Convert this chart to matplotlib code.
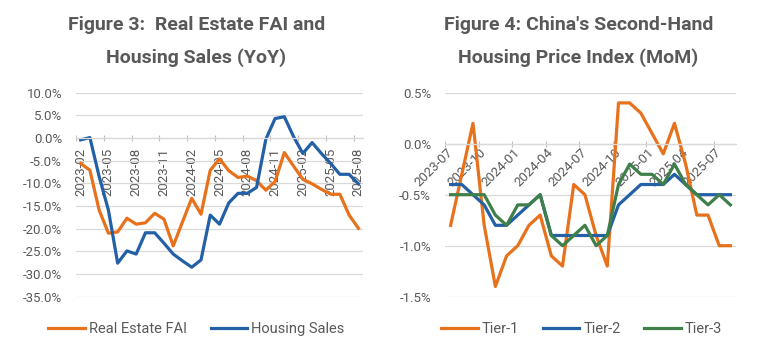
import matplotlib
matplotlib.use("Agg")
import matplotlib.pyplot as plt
from matplotlib.ticker import FixedLocator, FuncFormatter

plt.rcParams["font.family"] = ["Roboto", "DejaVu Sans"]

ORANGE = "#E8711C"
BLUE = "#2360A5"
GREEN = "#3E7F4A"
GRID = "#D9D9D9"
TXT = "#595959"

# ---- Figure 3: real estate FAI and housing sales, YoY %
fai_months = ["2023-02", "2023-03", "2023-04", "2023-05", "2023-06", "2023-07",
              "2023-08", "2023-09", "2023-10", "2023-11", "2023-12", "2024-01",
              "2024-02", "2024-03", "2024-04", "2024-05", "2024-06", "2024-07",
              "2024-08", "2024-09", "2024-10", "2024-11", "2024-12", "2025-01",
              "2025-02", "2025-03", "2025-04", "2025-05", "2025-06", "2025-07",
              "2025-08"]
real_estate_fai = [-5.6, -7.1, -15.9, -21.0, -20.7, -17.7, -19.0, -18.7, -16.6,
                   -17.9, -23.8, -18.5, -13.3, -16.8, -7.1, -4.6, -7.2, -8.7,
                   -8.4, -9.4, -11.5, -9.6, -3.2, -6.2, -9.1, -10.1, -11.3,
                   -12.4, -12.4, -17.0, -19.9]
housing_sales = [-0.4, 0.1, -8.5, -15.9, -27.6, -24.9, -25.6, -20.9, -20.9,
                 -23.2, -25.6, -27.1, -28.5, -26.9, -17.0, -19.0, -14.3, -12.2,
                 -12.2, -10.9, -0.3, 4.3, 4.7, 0.3, -3.4, -1.0, -3.4, -5.6,
                 -8.0, -8.0, -10.1]

# ---- Figure 4: second-hand housing price index, MoM %
price_months = ["2023-07", "2023-08", "2023-09", "2023-10", "2023-11", "2023-12",
                "2024-01", "2024-02", "2024-03", "2024-04", "2024-05", "2024-06",
                "2024-07", "2024-08", "2024-09", "2024-10", "2024-11", "2024-12",
                "2025-01", "2025-02", "2025-03", "2025-04", "2025-05", "2025-06",
                "2025-07", "2025-08"]
tier1 = [-0.8, -0.3, 0.2, -0.8, -1.4, -1.1, -1.0, -0.8, -0.7, -1.1, -1.2, -0.4,
         -0.5, -0.9, -1.2, 0.4, 0.4, 0.3, 0.1, -0.1, 0.2, -0.2, -0.7, -0.7,
         -1.0, -1.0]
tier2 = [-0.4, -0.4, -0.5, -0.6, -0.8, -0.8, -0.7, -0.6, -0.5, -0.9, -0.9, -0.9,
         -0.9, -0.9, -0.9, -0.6, -0.5, -0.4, -0.4, -0.4, -0.3, -0.4, -0.5, -0.5,
         -0.5, -0.5]
tier3 = [-0.5, -0.5, -0.5, -0.5, -0.7, -0.8, -0.6, -0.6, -0.5, -0.9, -1.0, -0.9,
         -0.8, -1.0, -0.9, -0.4, -0.2, -0.3, -0.3, -0.4, -0.2, -0.4, -0.5, -0.6,
         -0.5, -0.6]


def style_axis(ax, months, yticks, fmt, label_rot):
    n = len(months)
    ax.set_xlim(-0.5, n - 0.5)
    ax.set_ylim(yticks[0], yticks[-1])
    ax.set_yticks(yticks)
    ax.yaxis.set_major_formatter(FuncFormatter(fmt))
    ax.grid(axis="y", color=GRID, linewidth=0.9)
    ax.set_axisbelow(True)
    for s in ("top", "right", "left"):
        ax.spines[s].set_visible(False)
    # category axis crosses at zero, labels every 3rd month
    ax.spines["bottom"].set_position(("data", 0))
    ax.spines["bottom"].set_color(GRID)
    ax.spines["bottom"].set_linewidth(0.9)
    idx = list(range(0, n, 3))
    ax.set_xticks(idx)
    ax.set_xticklabels([months[i] for i in idx])
    ax.xaxis.set_minor_locator(FixedLocator([i - 0.5 for i in idx]))
    ax.tick_params(axis="x", which="major", length=0, labelsize=9.5,
                   labelcolor=TXT)
    ax.tick_params(axis="x", which="minor", length=5, direction="inout",
                   color="#BFBFBF", width=0.8)
    ax.tick_params(axis="y", length=0, labelsize=9.5, labelcolor=TXT, pad=10)
    if label_rot == 90:
        ax.tick_params(axis="x", which="major", pad=7)
        for lab in ax.get_xticklabels():
            lab.set_rotation(90)
    else:
        ax.tick_params(axis="x", which="major", pad=5)
        for lab in ax.get_xticklabels():
            lab.set_rotation(45)
            lab.set_ha("right")
            lab.set_va("center")
            lab.set_rotation_mode("anchor")


fig = plt.figure(figsize=(7.67, 3.54), dpi=100)
ax1 = fig.add_axes([0.0991, 0.1619, 0.3742, 0.5762])
ax2 = fig.add_axes([0.5802, 0.1619, 0.3794, 0.5762])

x1 = range(len(fai_months))
ax1.plot(x1, real_estate_fai, color=ORANGE, lw=2.3, label="Real Estate FAI")
ax1.plot(x1, housing_sales, color=BLUE, lw=2.3, label="Housing Sales")
style_axis(ax1, fai_months, [-35, -30, -25, -20, -15, -10, -5, 0, 5, 10],
           lambda v, p: f"{v:.1f}%", 90)

x2 = range(len(price_months))
ax2.plot(x2, tier1, color=ORANGE, lw=2.3, label="Tier-1")
ax2.plot(x2, tier2, color=BLUE, lw=2.3, label="Tier-2")
ax2.plot(x2, tier3, color=GREEN, lw=2.3, label="Tier-3")
style_axis(ax2, price_months, [-1.5, -1.0, -0.5, 0.0, 0.5],
           lambda v, p: f"{v:.1f}%", 45)

fig.text(0.256, 0.955, "Figure 3:  Real Estate FAI and\nHousing Sales (YoY)",
         ha="center", va="top", fontsize=14, fontweight="bold", color=TXT,
         linespacing=1.95)
fig.text(0.754, 0.955, "Figure 4: China's Second-Hand\nHousing Price Index (MoM)",
         ha="center", va="top", fontsize=14, fontweight="bold", color=TXT,
         linespacing=1.95)

leg_kw = dict(loc="center", frameon=False, fontsize=10.5, handlelength=2.5,
              handletextpad=0.3, columnspacing=1.6, labelcolor=TXT)
ax1.legend(ncol=2, bbox_to_anchor=(0.42, -0.16), **leg_kw)
ax2.legend(ncol=3, bbox_to_anchor=(0.47, -0.16), **leg_kw)

fig.savefig("out.png", dpi=100)
